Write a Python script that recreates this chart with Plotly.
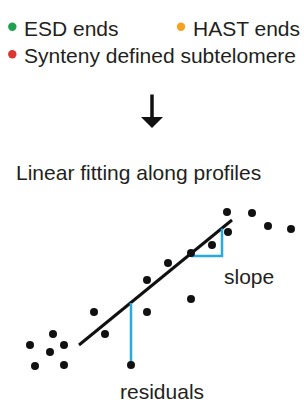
import plotly.graph_objects as go

# ---- data ----
legend_labels = ["ESD ends", "HAST ends", "Synteny defined subtelomere"]
legend_colors = ["#1fa24f", "#f6a21d", "#d9372f"]

profile_x = [22.7, 25.2, 26.8, 29.1, 22.8, 21.2, 19.1, 16.8, 14.7, 19.1,
             14.7, 9.4, 10.5, 5.3, 3.0, 6.4, 5.0, 3.5, 6.4, 13.1]
profile_y = [20.4, 20.3, 19.0, 18.7, 18.4, 17.1, 16.3, 15.3, 13.6, 11.7,
             10.4, 10.4, 8.2, 8.2, 7.1, 7.1, 6.4, 5.0, 5.1, 5.1]

fit_x = [7.9, 23.2]
fit_y = [7.1, 19.6]

residual_x = [13.1, 13.1]
residual_y = [11.3, 5.1]

slope_x = [19.1, 22.2, 22.2]
slope_y = [16.0, 16.0, 18.75]

title_text = "Linear fitting along profiles"
slope_label = "slope"
residual_label = "residuals"

TXT = "#231f20"
FONT = "Arial, Liberation Sans, Helvetica, sans-serif"
BLUE = "#27aae1"
W, H = 304, 416

fig = go.Figure()
fig.add_trace(go.Scatter(x=fit_x, y=fit_y, mode="lines",
                         line=dict(color="#111111", width=3), showlegend=False))
fig.add_trace(go.Scatter(x=residual_x, y=residual_y, mode="lines",
                         line=dict(color=BLUE, width=2.5), showlegend=False))
fig.add_trace(go.Scatter(x=slope_x, y=slope_y, mode="lines",
                         line=dict(color=BLUE, width=2.5), showlegend=False))
fig.add_trace(go.Scatter(x=profile_x, y=profile_y, mode="markers",
                         marker=dict(color="#111111", size=8), showlegend=False))

anns = []
# legend (drawn as dots + labels)
leg_pos = [(12.3, 26.7, 22, 28.7), (181, 26.7, 191, 28.7), (12.3, 54.3, 22, 56.0)]
shapes = []
for lab, col, (dx, dy, tx, ty) in zip(legend_labels, legend_colors, leg_pos):
    shapes.append(dict(type="circle", xref="paper", yref="paper",
                       xsizemode="pixel", ysizemode="pixel",
                       xanchor=dx / W, yanchor=1 - dy / H,
                       x0=-4.2, x1=4.2, y0=-4.2, y1=4.2,
                       fillcolor=col, line=dict(width=0)))
    anns.append(dict(text=lab, xref="paper", yref="paper", x=tx / W, y=1 - ty / H,
                     xanchor="left", yanchor="middle", showarrow=False,
                     font=dict(size=21, color=TXT, family=FONT)))

# down arrow
anns.append(dict(text="", xref="paper", yref="paper", x=152 / W, y=1 - 128 / H,
                 ax=0, ay=-35, showarrow=True, arrowhead=1, arrowwidth=3.5,
                 arrowsize=1.05, arrowcolor="#111111", standoff=0))

anns.append(dict(text=title_text, xref="paper", yref="paper", x=14 / W, y=1 - 172 / H,
                 xanchor="left", yanchor="middle", showarrow=False,
                 font=dict(size=21, color=TXT, family=FONT)))
anns.append(dict(text=slope_label, xref="x", yref="y", x=24.9, y=(416 - 276) / 10,
                 xanchor="center", yanchor="middle", showarrow=False,
                 font=dict(size=21, color=TXT, family=FONT)))
anns.append(dict(text=residual_label, xref="x", yref="y", x=16.2, y=(416 - 391) / 10,
                 xanchor="center", yanchor="middle", showarrow=False,
                 font=dict(size=21, color=TXT, family=FONT)))

fig.update_layout(
    width=W, height=H, margin=dict(l=0, r=0, t=0, b=0),
    paper_bgcolor="white", plot_bgcolor="white",
    xaxis=dict(range=[0, 30.4], visible=False, domain=[0, 1], fixedrange=True),
    yaxis=dict(range=[0, 20.8], visible=False, domain=[0, 0.5], fixedrange=True),
    annotations=anns, shapes=shapes, showlegend=False,
)
fig.write_html("out.html", config={"displayModeBar": False},
               post_script="document.body.style.margin='0';document.body.style.padding='0';")
